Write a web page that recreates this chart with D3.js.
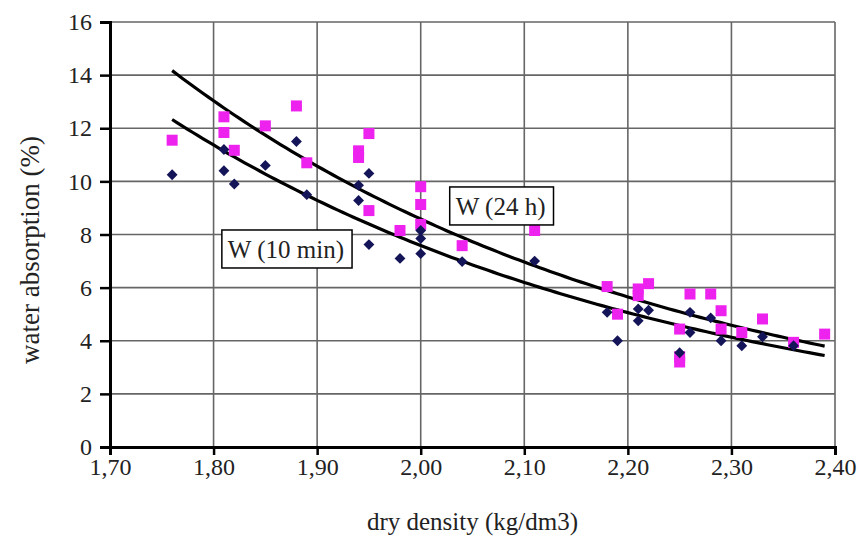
<!DOCTYPE html>
<html>
<head>
<meta charset="utf-8">
<script src="https://cdn.jsdelivr.net/npm/d3@7"></script>
<style>
  body { margin: 0; background: #fff; }
  text { font-family: "Liberation Serif", "Times New Roman", serif; fill: #222; }
</style>
</head>
<body>
<div id="chart"></div>
<script>
// dry density (kg/dm3) and water absorption (%)
const w10_x = [1.76, 1.81, 1.81, 1.82, 1.85, 1.88, 1.89, 1.94, 1.94, 1.95, 1.95, 1.98, 2.00, 2.00, 2.00,
  2.04, 2.11, 2.18, 2.19, 2.21, 2.21, 2.22, 2.25, 2.26, 2.26, 2.28, 2.29, 2.31, 2.33, 2.36];
const w10_y = [10.25, 11.2, 10.4, 9.9, 10.6, 11.5, 9.5, 9.85, 9.28, 10.3, 7.62, 7.1, 8.15, 7.85, 7.28,
  6.98, 7.0, 5.07, 4.0, 5.2, 4.75, 5.15, 3.55, 5.07, 4.31, 4.86, 4.0, 3.81, 4.15, 3.81];

const w24_x = [1.76, 1.81, 1.81, 1.82, 1.85, 1.88, 1.89, 1.94, 1.94, 1.95, 1.95, 1.98, 2.00, 2.00, 2.00,
  2.04, 2.11, 2.18, 2.19, 2.21, 2.21, 2.22, 2.25, 2.25, 2.25, 2.26, 2.28, 2.29, 2.29, 2.31, 2.33, 2.36, 2.39];
const w24_y = [11.55, 12.43, 11.84, 11.17, 12.09, 12.84, 10.7, 11.15, 10.9, 11.8, 8.9, 8.15, 9.8, 9.13, 8.38,
  7.58, 8.15, 6.04, 5.0, 5.95, 5.7, 6.15, 4.44, 3.4, 3.2, 5.76, 5.76, 5.13, 4.44, 4.31, 4.82, 3.94, 4.25];

const x_ticks = [1.70, 1.80, 1.90, 2.00, 2.10, 2.20, 2.30, 2.40];
const y_ticks = [0, 2, 4, 6, 8, 10, 12, 14, 16];

// label boxes, anchored in data units (left, top)
const labels = [
  { text: "W (24 h)", x: 2.028, y: 9.79 },
  { text: "W (10 min)", x: 1.808, y: 8.17 }
];

let graph_config = {
  width: 859,
  height: 544,
  margin: { left: 110, right: 24, top: 22, bottom: 97 }
};
let { width, height, margin } = graph_config;
let inner_w = width - margin.left - margin.right;
let inner_h = height - margin.top - margin.bottom;

let svg = d3.select("#chart").append("svg")
  .attr("width", width)
  .attr("height", height);
let g = svg.append("g")
  .attr("transform", "translate(" + margin.left + "," + margin.top + ")");

let x_scale = d3.scaleLinear().domain([1.7, 2.4]).range([0, inner_w]);
let y_scale = d3.scaleLinear().domain([0, 16]).range([inner_h, 0]);

// gridlines
g.selectAll(".hgrid").data(y_ticks.filter(d => d > 0)).enter()
  .append("line")
  .attr("x1", 0).attr("x2", inner_w)
  .attr("y1", d => y_scale(d)).attr("y2", d => y_scale(d))
  .attr("stroke", "#666").attr("stroke-width", 1.6);
g.selectAll(".vgrid").data(x_ticks.filter(d => d > 1.7)).enter()
  .append("line")
  .attr("y1", 0).attr("y2", inner_h)
  .attr("x1", d => x_scale(d)).attr("x2", d => x_scale(d))
  .attr("stroke", "#666").attr("stroke-width", 1.6);

// axes
let fmt = d => d.toFixed(2).replace(".", ",");
let x_axis = g.append("g")
  .attr("transform", "translate(0," + inner_h + ")")
  .call(d3.axisBottom(x_scale).tickValues(x_ticks).tickFormat(fmt).tickSize(8).tickPadding(3));
let y_axis = g.append("g")
  .call(d3.axisLeft(y_scale).tickValues(y_ticks).tickSize(10).tickPadding(8));
[x_axis, y_axis].forEach(a => {
  a.select(".domain").attr("stroke", "#000").attr("stroke-width", 3);
  a.selectAll(".tick line").attr("stroke", "#000").attr("stroke-width", 2.5);
  a.selectAll(".tick text").attr("font-size", 24).attr("fill", "#222")
    .attr("font-family", '"Liberation Serif", serif');
});

// exponential trendlines fitted on ln(y), like a spreadsheet trendline
function exp_fit(xs, ys) {
  let ly = ys.map(Math.log);
  let mx = d3.mean(xs), my = d3.mean(ly);
  let b = d3.sum(xs, (x, i) => (x - mx) * (ly[i] - my)) / d3.sum(xs, x => (x - mx) * (x - mx));
  let a = Math.exp(my - b * mx);
  return x => a * Math.exp(b * x);
}
let x_range = d3.extent(w10_x.concat(w24_x));
let line = d3.line().x(d => x_scale(d[0])).y(d => y_scale(d[1]));
[[w24_x, w24_y], [w10_x, w10_y]].forEach(([xs, ys]) => {
  let f = exp_fit(xs, ys);
  let pts = d3.range(x_range[0], x_range[1] + 0.0001, 0.005).map(x => [x, f(x)]);
  g.append("path")
    .attr("d", line(pts))
    .attr("fill", "none")
    .attr("stroke", "#000")
    .attr("stroke-width", 3.2);
});

// points
g.selectAll(".sq").data(w24_x.map((x, i) => [x, w24_y[i]])).enter()
  .append("rect")
  .attr("x", d => x_scale(d[0]) - 5.5)
  .attr("y", d => y_scale(d[1]) - 5.5)
  .attr("width", 11).attr("height", 11)
  .attr("fill", "#ee22ee");
g.selectAll(".dia").data(w10_x.map((x, i) => [x, w10_y[i]])).enter()
  .append("path")
  .attr("d", d3.symbol(d3.symbolDiamond2, 75))
  .attr("transform", d => "translate(" + x_scale(d[0]) + "," + y_scale(d[1]) + ")")
  .attr("fill", "#141458");

// label boxes
labels.forEach(l => {
  let lg = g.append("g")
    .attr("transform", "translate(" + x_scale(l.x) + "," + y_scale(l.y) + ")");
  let box = lg.append("rect").attr("fill", "#fff").attr("stroke", "#000").attr("stroke-width", 1.5);
  let t = lg.append("text").attr("font-size", 25).text(l.text);
  let bb = t.node().getBBox();
  t.attr("x", 6).attr("y", 6 - bb.y);
  box.attr("width", bb.width + 14).attr("height", bb.height + 10);
});

// axis titles
svg.append("text")
  .attr("x", margin.left + inner_w / 2)
  .attr("y", 530)
  .attr("text-anchor", "middle")
  .attr("font-size", 25)
  .text("dry density (kg/dm3)");
svg.append("text")
  .attr("transform", "translate(39,250) rotate(-90)")
  .attr("text-anchor", "middle")
  .attr("font-size", 27)
  .text("water absorption (%)");
</script>
</body>
</html>
